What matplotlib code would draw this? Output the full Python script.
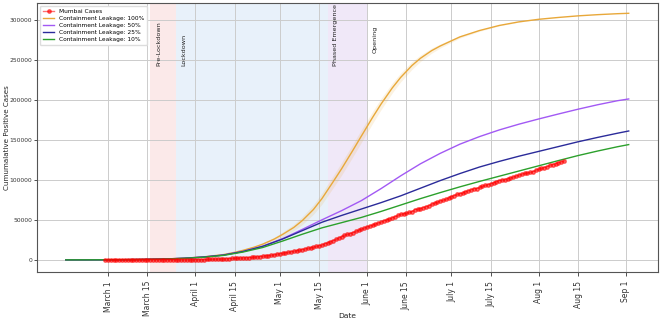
import matplotlib
matplotlib.use("Agg")
import matplotlib.pyplot as plt
import pandas as pd

# Mumbai cumulative positive cases, daily from Feb 29 to Aug 10
mumbai_start = "2020-02-29"
mumbai_cases = [
    0,
    # March
    0, 0, 0, 0, 0, 0, 0, 0, 0, 0, 2, 3, 3, 5, 5, 6, 7, 8, 10, 19,
    22, 27, 32, 38, 50, 57, 74, 88, 99, 120, 151,
    # April
    181, 238, 278, 330, 490, 530, 642, 714, 876, 993, 1182, 1298, 1549, 1756, 1896,
    2073, 2120, 2268, 2455, 2724, 3032, 3445, 3683, 4205, 4447, 5049, 5407, 5776, 6169, 7061,
    # May
    7625, 8359, 8800, 9310, 9945, 10714, 11394, 12142, 12864, 13564, 14355, 14947, 15747,
    16738, 17671, 18396, 20150, 21152, 22563, 23935, 25500, 27251, 28817, 30542, 31789,
    32791, 34018, 35485, 36710, 38220, 39686,
    # June
    41099, 42216, 43262, 44704, 45854, 47128, 48549, 50085, 51100, 52445, 53985, 55451,
    56831, 57487, 58135, 59201, 60228, 62799, 63294, 64068, 65265, 66488, 67586, 69528,
    70878, 71805, 73747, 74252, 75539, 77197,
    # July
    79145, 80262, 81666, 82814, 83237, 85326, 86132, 87513, 88795, 89124, 90461, 91745,
    92988, 93894, 95100, 96253, 97751, 98979, 99786, 100350, 101224, 102224, 103368,
    104678, 105829, 106980, 107981, 108330, 109161, 110182, 111991,
    # August
    113199, 114287, 115346, 116436, 118130, 119128, 120150, 121365, 122316, 123397,
]

# model projections (days after Feb 15, 2020)
model_start = "2020-02-15"
model_days = [0, 7, 14, 21, 28, 35, 42, 49, 56, 63, 70, 77, 84, 91, 98, 105, 112,
              119, 126, 133, 140, 147, 154, 161, 168, 175, 182, 189, 196, 200]
leak_50 = [0, 30, 100, 250, 550, 1100, 2000, 3600, 6000, 10500, 17000, 26500, 38000,
           50000, 61500, 74000, 89000, 105000, 120000, 133000, 144500, 154000, 162300,
           169500, 176000, 182200, 188200, 193800, 198800, 201000]
leak_25 = [0, 30, 100, 250, 550, 1100, 2000, 3600, 6000, 10500, 17000, 26000, 36500,
           47000, 55500, 63500, 71500, 80000, 89500, 99000, 107800, 116000, 123000,
           129500, 135500, 141500, 147500, 153000, 158200, 161000]
leak_10 = [0, 30, 100, 250, 500, 1000, 1900, 3300, 5600, 9800, 15500, 23500, 32000,
           40000, 46500, 53000, 60500, 68500, 76500, 84000, 91200, 98000, 104500,
           111000, 117500, 124000, 130300, 136000, 141300, 144000]

leak_100_days = [0, 7, 14, 21, 28, 35, 42, 49, 56, 60, 63, 67, 70, 74, 77, 81, 84, 88,
                 91, 95, 98, 102, 105, 109, 112, 116, 119, 123, 126, 130, 133, 140,
                 147, 154, 161, 168, 175, 182, 189, 196, 200]
leak_100 = [0, 30, 100, 250, 550, 1100, 2100, 3800, 6600, 9400, 11950, 15950, 19700,
            25900, 31750, 40500, 49000, 63000, 76500, 97650, 113850, 136850, 154550,
            177950, 194600, 214800, 228000, 242800, 251800, 261400, 267100, 278500,
            286500, 292800, 297300, 300500, 302800, 304800, 306300, 307500, 308000]
leak_100_spread = [0, 0, 0, 0, 0, 0, 0, 0, 0, 200, 500, 1000, 1500, 2200, 3000, 4000,
                   5000, 6000, 7000, 7500, 8000, 8000, 8000, 7500, 7000, 6200, 5500,
                   4800, 4000, 3200, 2500, 1500, 1000, 500, 300, 200, 0, 0, 0, 0, 0]

# policy phases
phase_names = ["Pre-Lockdown", "Lockdown", "Phased Emergence", "Opening"]
phase_starts = ["2020-03-16", "2020-03-25", "2020-05-18", "2020-06-01"]
phase_ends = ["2020-03-25", "2020-05-18", "2020-06-01", None]

tick_dates = ["2020-03-01", "2020-03-15", "2020-04-01", "2020-04-15", "2020-05-01",
              "2020-05-15", "2020-06-01", "2020-06-15", "2020-07-01", "2020-07-15",
              "2020-08-01", "2020-08-15", "2020-09-01"]
tick_labels = ["March 1", "March 15", "April 1", "April 15", "May 1", "May 15",
               "June 1", "June 15", "July 1", "July 15", "Aug 1", "Aug 15", "Sep 1"]

mumbai_dates = pd.date_range(mumbai_start, periods=len(mumbai_cases), freq="D")
start = pd.to_datetime(model_start)
model_dates = start + pd.to_timedelta(model_days, unit="D")
leak_100_dates = start + pd.to_timedelta(leak_100_days, unit="D")

fig = plt.figure(figsize=(6.6, 3.21), dpi=100)
ax = fig.add_axes([0.056, 0.153, 0.941, 0.838])

# phase shading
span_colors = ["#fbe9e9", "#e8f1fa", "#f0e8f8"]
for s, e, c in zip(phase_starts[:3], phase_ends[:3], span_colors):
    ax.axvspan(pd.to_datetime(s), pd.to_datetime(e), color=c, zorder=0, lw=0)

text_y = [242000, 242000, 242000, 258000]
text_x = ["2020-03-19", "2020-03-28", "2020-05-21", "2020-06-04"]
for name, tx, ty in zip(phase_names, text_x, text_y):
    ax.text(pd.to_datetime(tx), ty, name, rotation=90, ha="center", va="bottom",
            fontsize=4.6, color="#222222")

ax.plot(mumbai_dates, mumbai_cases, color="red", marker="o", markersize=2.5,
        alpha=0.55, lw=1, label="Mumbai Cases", zorder=3)

lo = [v - s for v, s in zip(leak_100, leak_100_spread)]
hi = [v + s for v, s in zip(leak_100, leak_100_spread)]
ax.fill_between(leak_100_dates, lo, hi, color="#e8a83a", alpha=0.15, lw=0)
ax.plot(leak_100_dates, leak_100, color="#e8a83a", lw=1, label="Containment Leakage: 100%")
ax.plot(model_dates, leak_50, color="#a259f4", lw=1, label="Containment Leakage: 50%")
ax.plot(model_dates, leak_25, color="#2b2b9a", lw=1, label="Containment Leakage: 25%")
ax.plot(model_dates, leak_10, color="#2ca02c", lw=1, label="Containment Leakage: 10%")

ax.set_xlim(pd.to_datetime("2020-02-04 18:00"), pd.to_datetime("2020-09-12 10:00"))
ax.set_ylim(-15000, 321000)
ax.set_xticks(pd.to_datetime(tick_dates))
ax.set_xticklabels(tick_labels, rotation=90)
ax.set_yticks(range(0, 300001, 50000))
ax.tick_params(colors="#333333", length=3, width=0.6)
ax.tick_params(axis="x", labelsize=5.5)
ax.tick_params(axis="y", labelsize=4.3, length=2, pad=1.5)

ax.grid(True, color="#cccccc", lw=0.7)
ax.set_axisbelow(True)
for sp in ax.spines.values():
    sp.set_color("#555555")
    sp.set_linewidth(0.8)

ax.set_xlabel("Date", fontsize=5.4, color="#222222")
ax.xaxis.set_label_coords(0.5, -0.152)
ax.set_ylabel("Cumumalative Positive Cases", fontsize=5.1, color="#222222")
ax.yaxis.set_label_coords(-0.043, 0.5)

ax.legend(loc="upper left", fontsize=4.2, frameon=True, framealpha=1,
          edgecolor="#dddddd", borderpad=0.5, handlelength=2.0, labelspacing=0.35,
          bbox_to_anchor=(0.0, 1.0))

fig.savefig("out.png", dpi=100)
